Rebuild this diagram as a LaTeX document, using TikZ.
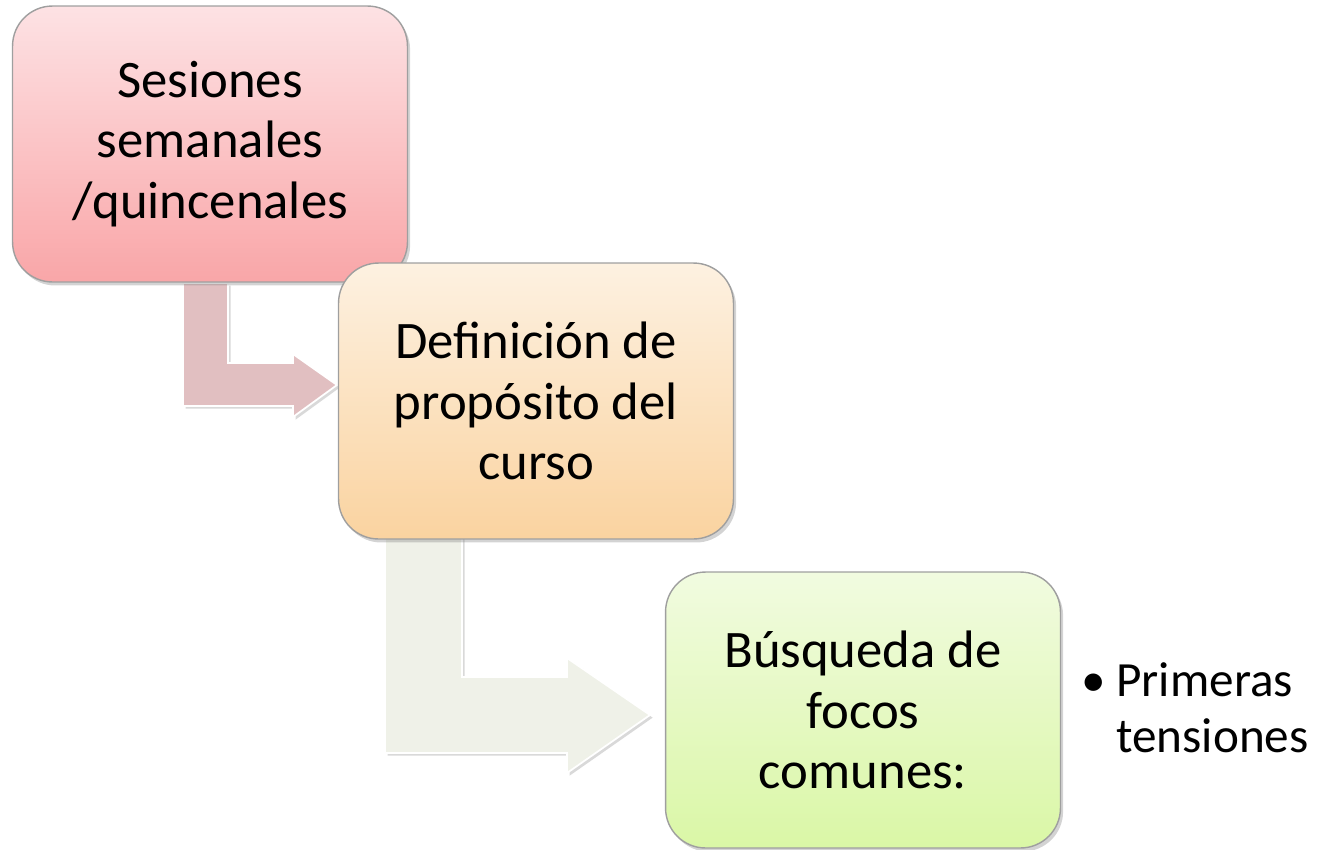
\documentclass[tikz,border=0pt]{standalone}
\usepackage{fontspec}
\setmainfont{Carlito}
\usetikzlibrary{shadows}
\definecolor{rosatop}{RGB}{253,226,228}
\definecolor{rosabot}{RGB}{249,166,168}
\definecolor{naranjatop}{RGB}{253,241,225}
\definecolor{naranjabot}{RGB}{250,211,160}
\definecolor{verdetop}{RGB}{241,251,224}
\definecolor{verdebot}{RGB}{218,247,166}
\definecolor{flecharosa}{RGB}{225,191,193}
\definecolor{flechaverde}{RGB}{239,241,232}
\begin{document}
\begin{tikzpicture}[x=0.02cm,y=-0.02cm,
    paso/.style={draw=gray!75, line width=0.8pt, rounded corners=0.8cm,
      minimum width=7.9cm, minimum height=5.52cm, align=center,
      font=\fontsize{30}{34.5}\selectfont,
      drop shadow={shadow xshift=1.5pt, shadow yshift=-2pt, opacity=0.35}},
    flecha/.style={draw=white, line width=1pt,
      drop shadow={shadow xshift=1.5pt, shadow yshift=-1.5pt, opacity=0.3}}]
  \useasboundingbox (0,0) rectangle (1321,849);
  % bent arrows, drawn below the boxes
  \filldraw[flecha, fill=flecharosa]
    (183,283) -- (228,283) -- (228,363) -- (293,363) -- (293,354)
    -- (337,385) -- (293,417) -- (293,406) -- (183,406) -- cycle;
  \filldraw[flecha, fill=flechaverde]
    (385,530) -- (462,530) -- (462,677) -- (567,677) -- (567,658)
    -- (650,715) -- (567,773) -- (567,753) -- (385,753) -- cycle;
  % boxes
  \node[paso, top color=rosatop, bottom color=rosabot] (sesiones) at (210,144)
    {Sesiones\\semanales\\/quincenales};
  \node[paso, top color=naranjatop, bottom color=naranjabot] (proposito) at (536,401)
    {Definición de\\propósito del\\curso};
  \node[paso, top color=verdetop, bottom color=verdebot] (focos) at (863,710)
    {Búsqueda de\\focos\\comunes:};
  \node[anchor=west, inner sep=0pt, align=left, font=\fontsize{28}{32}\selectfont] (tensiones) at (1081,713)
    {\begin{tabular}{@{}l@{\hspace{6pt}}l@{}}•&Primeras\\&tensiones\end{tabular}};
\end{tikzpicture}
\end{document}
